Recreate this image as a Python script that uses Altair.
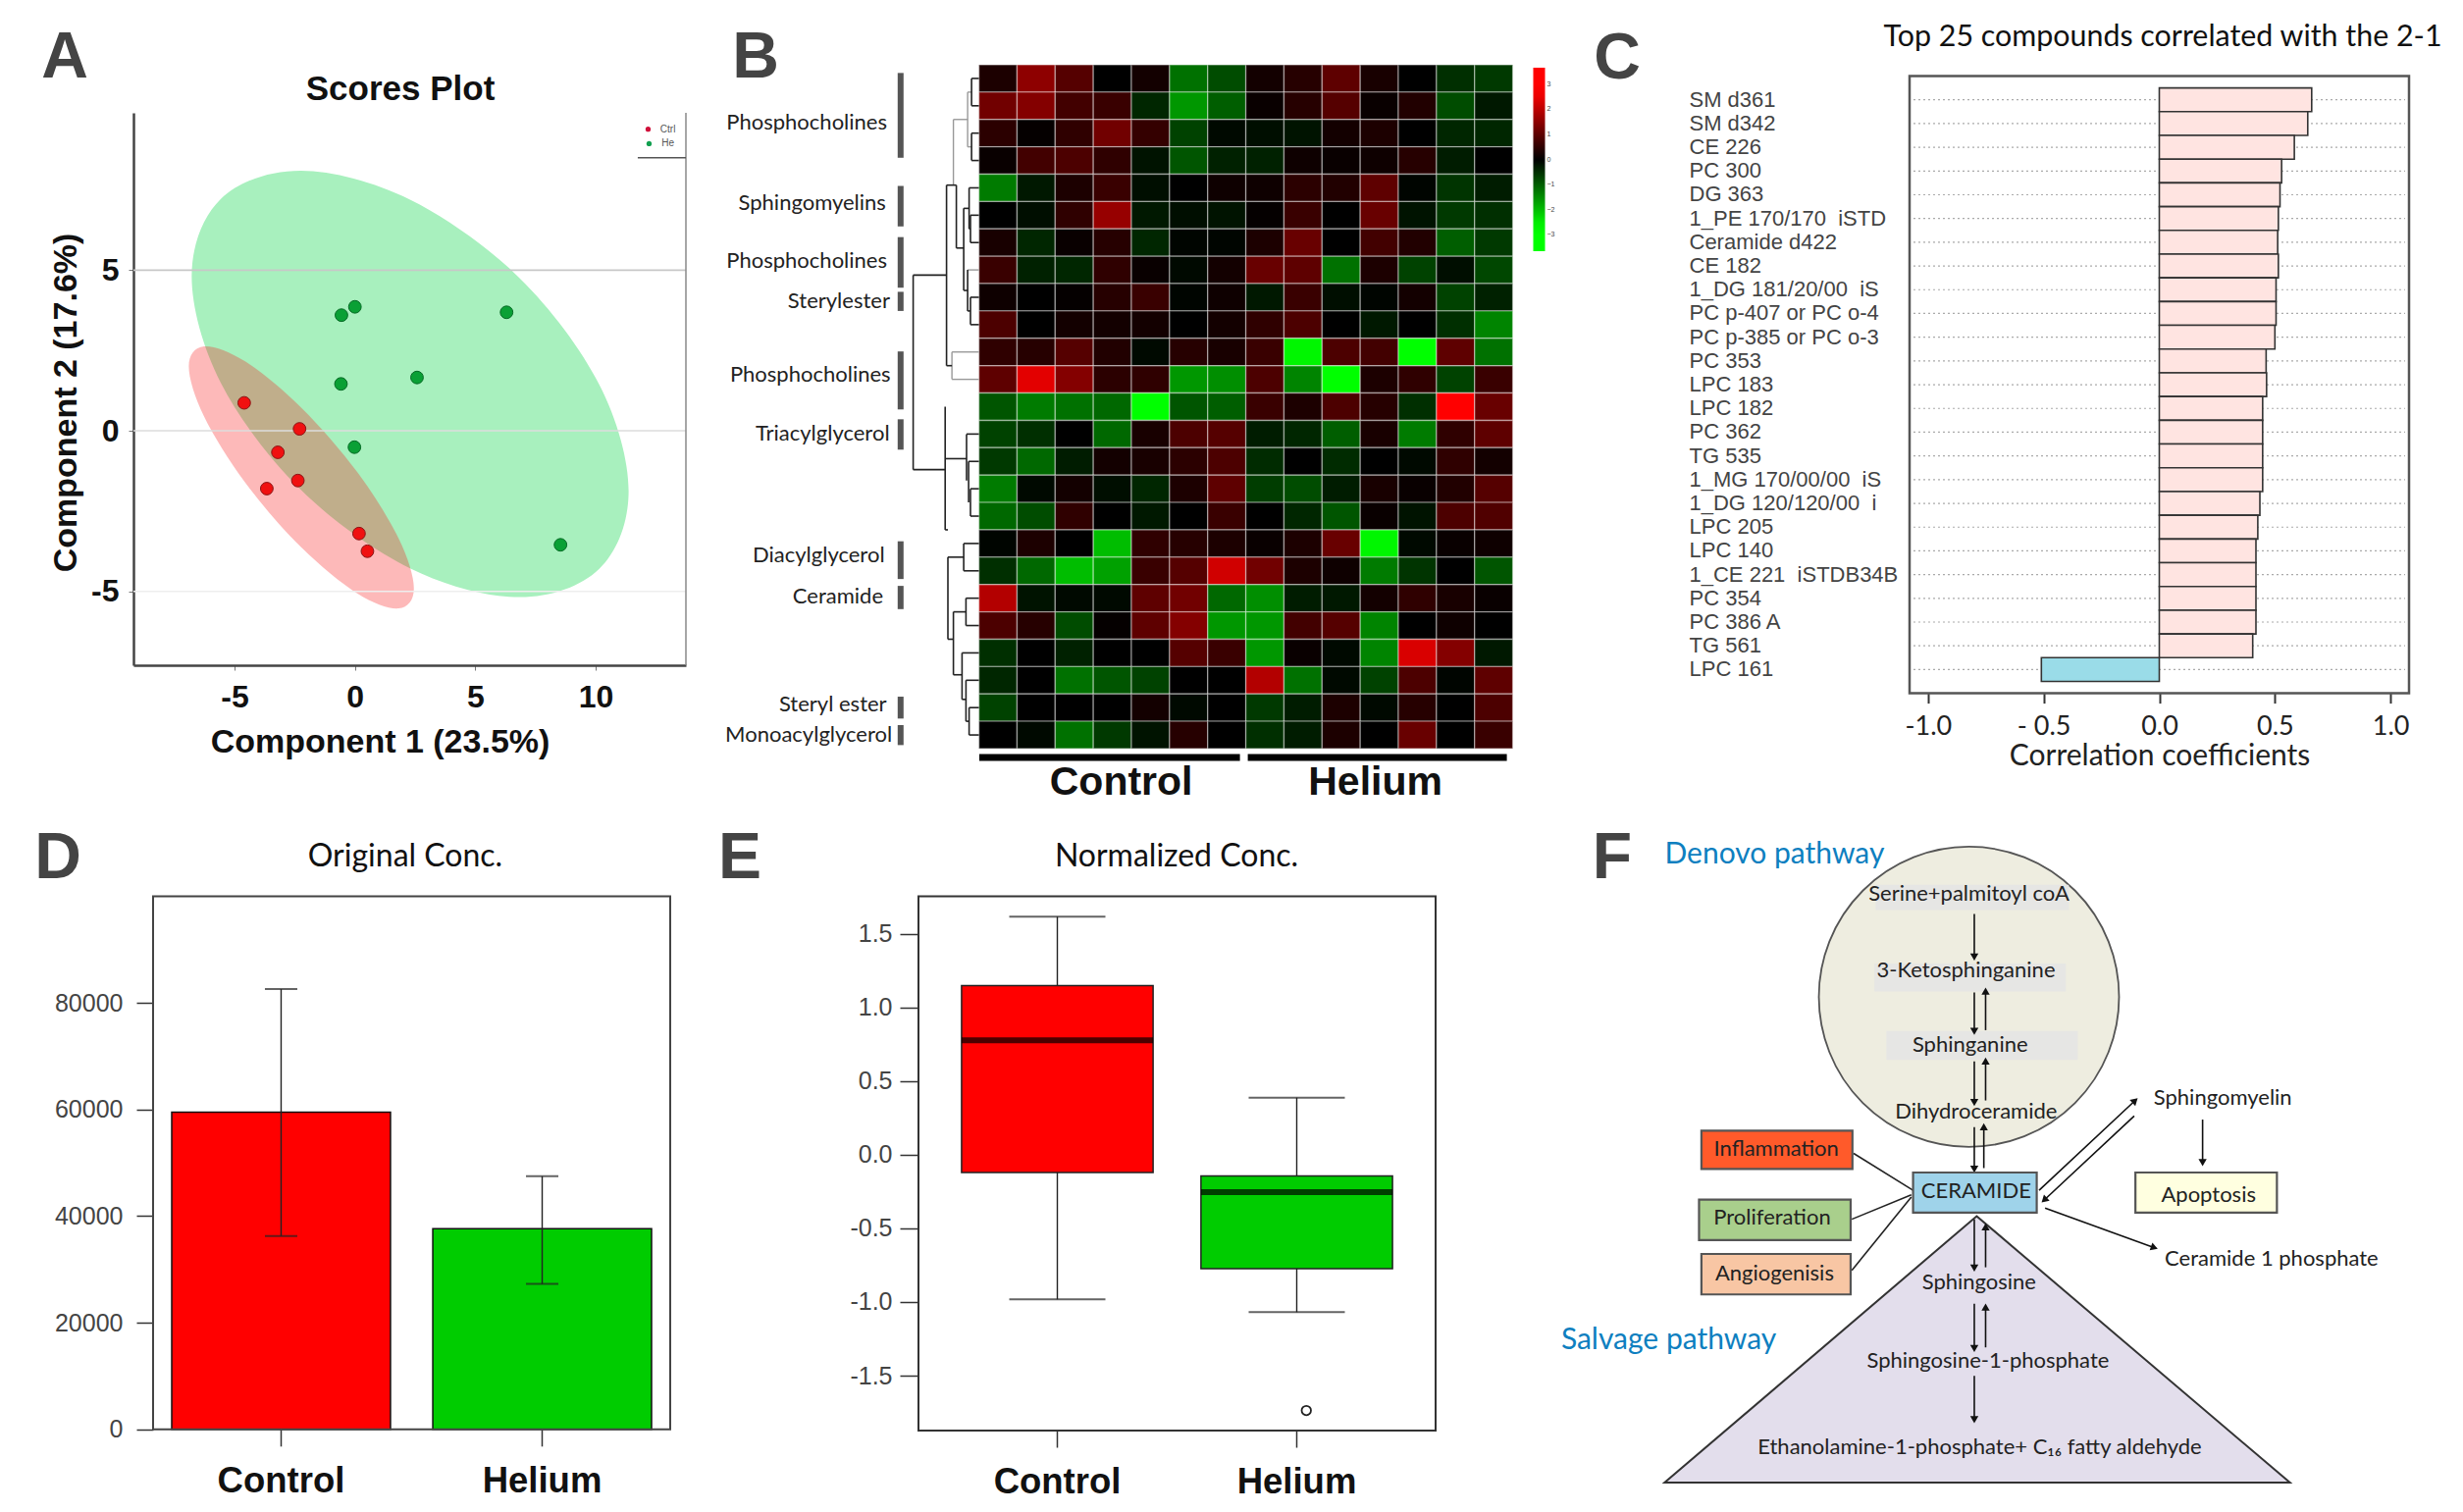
import math
import altair as alt
import pandas as pd

SANS = "Liberation Sans"
CAL = "Lato"
W, H = 2494, 1525

# ---------- A
red_x = [-4.6, -2.3, -3.2, -2.37, -3.66, 0.17, 0.52]
red_y = [0.87, 0.06, -0.67, -1.55, -1.8, -3.2, -3.75]
green_x = [0.0, -0.56, 6.3, 2.58, -0.58, -0.02, 8.54]
green_y = [3.86, 3.6, 3.69, 1.66, 1.46, -0.51, -3.55]
green_ell_x = [11.37, 10.15, 6.83, 2.29, -2.24, -5.57, -6.78, -5.57, -2.24, 2.29, 6.83, 10.15]
green_ell_y = [-1.88, -4.30, -5.18, -4.28, -1.84, 1.49, 4.81, 7.22, 8.10, 7.20, 4.76, 1.44]
red_ell_x = [2.45, 1.82, 0.11, -2.23, -4.56, -6.27, -6.90, -6.27, -4.56, -2.23, 0.11, 1.82]
red_ell_y = [-4.91, -5.53, -5.07, -3.63, -1.61, 0.45, 2.00, 2.63, 2.16, 0.72, -1.30, -3.36]
a_grid = [5, 0, -5]

# ---------- B
heat = [
 [.3,1.5,.9,0,.2,-1.2,-.8,.2,.4,1.0,.25,0,-.5,-.6],
 [1.2,1.4,.7,.6,-.4,-1.6,-1.0,.1,.4,.9,.1,.35,-.8,-.25],
 [.45,.05,.5,1.2,.55,-.7,-.1,-.15,-.2,.2,.3,0,-.4,-.4],
 [.1,.7,.8,.5,-.2,-.9,-.35,-.35,.15,.1,.15,.4,-.3,0],
 [-1.3,-.25,.3,.6,-.15,0,.15,.15,.45,.35,1.0,-.05,-.55,-.3],
 [0,-.15,.5,1.6,-.25,-.15,-.2,.05,.6,0,1.1,-.2,-.6,-.5],
 [.25,-.4,.1,.4,-.4,-.05,-.05,.3,1.1,0,.7,.35,-1.0,-.6],
 [.6,-.35,-.4,.5,.1,-.1,.2,1.1,1.0,-1.2,.3,-.7,-.15,-.75],
 [.15,0,.05,.4,.6,-.05,.15,-.25,.6,-.15,-.05,.2,-.7,-.35],
 [.8,0,.2,.2,.2,0,.2,.5,.8,0,-.25,0,-.5,-1.4],
 [.5,.4,.9,.35,-.1,.4,.25,.6,-2.6,.8,.7,-2.8,1.0,-1.2],
 [1.0,2.4,1.4,.45,.5,-1.6,-1.5,.8,-1.4,-2.7,.3,.5,-.7,.6],
 [-.9,-1.3,-1.2,-1.1,-3.0,-.9,-1.0,.6,.3,.8,.4,-.5,3.0,1.1],
 [-.7,-.5,0,-1.1,.25,.8,.9,-.3,-.4,-1.0,.25,-1.3,.5,1.0],
 [-.6,-1.1,-.3,.2,.25,.45,.8,-.45,0,-.45,0,-.1,.5,.2],
 [-1.3,-.1,.2,-.15,-.4,.3,1.0,-.65,-.8,-.3,.25,.1,.35,.9],
 [-1.1,-.8,.5,0,-.25,0,.6,0,-.4,-.9,.1,-.2,.8,.85],
 [-.05,.3,0,-2.0,.5,.4,.3,.1,.3,1.1,-2.6,-.1,.1,.15],
 [-.5,-1.1,-2.0,-1.7,.6,.9,2.2,1.2,.3,.15,-1.3,-.55,0,-.9],
 [1.9,-.2,-.1,-.1,1.0,1.2,-1.1,-1.5,-.3,-.25,.2,.5,.25,.1],
 [.8,.4,-.8,.05,1.0,1.4,-1.6,-1.6,.7,.9,-1.4,0,.15,0],
 [-.5,0,-.35,0,0,.9,.6,-1.6,.1,-.1,-1.4,2.3,1.4,-.25],
 [-.4,0,-1.2,-.9,-.7,0,0,1.9,-1.2,-.1,-.7,.8,-.05,1.0],
 [-.7,0,0,0,.2,-.1,0,-.6,-.3,.3,-.1,.4,0,.8],
 [0,-.1,-1.2,-.6,-.2,.4,0,-.5,-.3,.3,0,1.1,0,.6],
]
dendro_dark = [
 (7.5,7.5,.5,1.5),(0,7.5,.5,.5),(0,7.5,1.5,1.5),
 (7.5,7.5,2.5,3.5),(0,7.5,2.5,2.5),(0,7.5,3.5,3.5),
 (10,10,4.5,6.0),(0,10,4.5,4.5),(8.6,8.6,5.5,6.5),(0,8.6,5.5,5.5),(0,8.6,6.5,6.5),(8.6,10,6,6),
 (8.6,8.6,8.5,9.5),(0,8.6,8.5,8.5),(0,8.6,9.5,9.5),(11.5,11.5,7.5,9),(8.6,11.5,9,9),
 (15.5,15.5,5.25,8.25),(10,15.5,5.25,5.25),(11.5,15.5,8.25,8.25),
 (23,23,4.4,6.7),(15.5,23,6.7,6.7),(23,33,4.4,4.4),
 (33,33,4.4,11),(27.5,33,11,11),
 (67,67,7.69,14.8),(33,67,7.69,7.69),(34.4,67,14.8,14.8),
 (34.4,34.4,12.5,17),(8.6,8.6,15.5,16.5),(0,8.6,15.5,15.5),(0,8.6,16.5,16.5),
 (10.5,10.5,14.5,16),(0,10.5,14.5,14.5),(12.6,12.6,13.5,15.2),(0,12.6,13.5,13.5),(12.6,34.4,14.4,14.4),
 (15.5,15.5,17.5,18.5),(0,15.5,17.5,17.5),(0,15.5,18.5,18.5),(15.5,31.6,18,18),
 (13.2,13.2,19.5,20.5),(0,13.2,19.5,19.5),(0,13.2,20.5,20.5),
 (10,10,23.5,24.5),(0,10,23.5,23.5),(0,10,24.5,24.5),
 (13.2,13.2,22.5,24),(0,13.2,22.5,22.5),(10,13.2,24,24),
 (17.2,17.2,21.5,23.2),(0,17.2,21.5,21.5),(13.2,17.2,23.2,23.2),
 (26,26,20,22.3),(13.2,26,20,20),(17.2,26,22.3,22.3),
 (31.6,31.6,18,21),(26,31.6,21,21),(31.6,34.4,17,17),
]
dendro_gray = [
 (11.5,11.5,1,3),(7.5,11.5,1,1),(7.5,11.5,3,3),(26,26,2,4.4),(11.5,26,2,2),
 (0,11.5,7.5,7.5),(27.5,27.5,10.5,11.5),(0,27.5,10.5,10.5),(0,27.5,11.5,11.5),
]
group_names = ["Phosphocholines","Sphingomyelins","Phosphocholines","Sterylester","Phosphocholines","Triacylglycerol","Diacylglycerol","Ceramide","Steryl ester","Monoacylglycerol"]
group_row = [2.1,5.05,7.19,8.64,11.34,13.5,17.94,19.44,23.4,24.5]
group_end = [93.6,94.7,93.6,90.7,90,91,96,97.6,94,88.4]
bar_top = [.3,4.43,6.3,8.3,10.48,12.96,17.42,19.05,23.1,24.14]
bar_bot = [3.4,5.91,8.15,9.0,12.6,14.07,18.8,19.9,23.9,24.87]
cond_names = ["Control","Helium"]
cond_x1 = [-0.4,-274]
cond_x2 = [-266,-538]
cond_center = [-145,-404]

# ---------- C
comp_names = ["SM d361","SM d342","CE 226","PC 300","DG 363","1_PE 170/170\u00a0\u00a0iSTD","Ceramide d422","CE 182","1_DG 181/20/00\u00a0\u00a0iS","PC p-407 or PC o-4","PC p-385 or PC o-3","PC 353","LPC 183","LPC 182","PC 362","TG 535","1_MG 170/00/00\u00a0\u00a0iS","1_DG 120/120/00\u00a0\u00a0i","LPC 205","LPC 140","1_CE 221\u00a0\u00a0iSTDB34B","PC 354","PC 386 A","TG 561","LPC 161"]
comp_vals = [.659,.642,.584,.529,.522,.515,.512,.515,.505,.505,.50,.462,.464,.447,.447,.447,.447,.435,.426,.418,.418,.418,.418,.404,-.51]

# ---------- D
d_groups = ["Control","Helium"]
d_means = [59480,37620]
d_low = [36280,27280]
d_high = [82580,47470]

# ---------- E
e_q1 = [-.121,-.773]
e_q3 = [1.148,-.145]
e_med = [.776,-.254]
e_lo = [-.982,-1.069]
e_hi = [1.616,.387]
e_out = [-1.737]

# ---------- F (diagram units)
tri_x = [750,1277,225]
tri_y = [903,1502,1502]
shade_x1 = [580,578,598]
shade_x2 = [905,900,920]
shade_y1 = [158,335,487]
shade_y2 = [215,398,552]
box_names = ["Inflammation","Proliferation","Angiogenisis","CERAMIDE","Apoptosis"]
box_x1 = [287,283,287,643,1017]
box_x2 = [541,538,538,851,1255]
box_y1 = [711,866,988,805,805]
box_y2 = [797,957,1079,895,895]
box_fill = ["#FF5A2A","#A9CF8C","#F8C6A4","#9FD3EA","#FFFFE0"]
box_tx = [413,406,410,749,1140]
box_ty = [751,906,1031,846,855]
label_names = ["Sphingomyelin","Ceramide 1 phosphate","Serine+palmitoyl coA","3-Ketosphinganine","Sphinganine","Dihydroceramide","Sphingosine","Sphingosine-1-phosphate","Ethanolamine-1-phosphate+ C\u2081\u2086 fatty aldehyde"]
label_x = [1164,1246,737,732,739,749,754,769,755]
label_y = [638,1000,178,350,518,668,1051,1229,1423]
arrows = [(746,224,746,318),(746,400,746,485),(765,485,765,400),(746,555,746,645),(765,643,765,557),
          (746,703,746,795),(762,795,762,705),(746,910,746,1017),(765,1018,765,930),(746,1100,746,1198),
          (765,1198,765,1110),(746,1262,746,1358),(1130,686,1130,780),(855,845,1015,645),(1015,678,865,865),(865,885,1047,973)]
plain_lines = [(543,762,643,845),(540,910,640,855),(540,1025,640,860)]
path_names = ["Denovo pathway","Salvage pathway"]
path_x = [410,232]
path_y = [90,1183]

ONE = pd.DataFrame({"a": [0]})
MINUS = "replace(format(datum.value, '{}'), '\u2212', '-')"


def text_at(s, x, y, **kw):
    return alt.Chart(pd.DataFrame({"t": [s]})).mark_text(baseline="middle", align="center", **kw).encode(
        x=alt.value(x), y=alt.value(y), text="t:N")


def letter(s, x, y):
    return text_at(s, x, y, font=SANS, fontWeight="bold", fontSize=66, color="#444444")


def frame(x0, y0, x1, y1, color, w):
    return alt.Chart(ONE).mark_rect(fillOpacity=0, stroke=color, strokeWidth=w).encode(
        x=alt.value(x0), x2=alt.value(x1), y=alt.value(y0), y2=alt.value(y1))


# ===== Panel A (x 128-691, y 107-670)
sx_a = alt.Scale(domain=[-9.2, 13.75], range=[128, 691], nice=False, zero=False)
sy_a = alt.Scale(domain=[-7.3, 9.9], range=[670, 107], nice=False, zero=False)
X_A = alt.X("x:Q", scale=sx_a, axis=None)
Y_A = alt.Y("y:Q", scale=sy_a, axis=None)
X_A_ax = alt.X("x:Q", scale=sx_a, axis=alt.Axis(
    orient="bottom", offset=670 - H, values=[-5, 0, 5, 10], labelExpr=MINUS.format("d"), grid=False, title="Component 1 (23.5%)", titleFont=SANS,
    titleFontSize=34, titleFontWeight="bold", titleColor="#111", titleX=379, titlePadding=13, labelFont=SANS, labelFontSize=32, labelFontWeight="bold",
    labelColor="#111", labelPadding=12, tickSize=5, tickColor="#777", domainColor="#444", domainWidth=2.5))
Y_A_ax = alt.Y("y:Q", scale=sy_a, axis=alt.Axis(
    orient="left", offset=-128, values=[-5, 0, 5], labelExpr=MINUS.format("d"), grid=False, title="Component 2 (17.6%)", titleFont=SANS,
    titleFontSize=34, titleFontWeight="bold", titleColor="#111", titleY=402, titlePadding=8, labelFont=SANS, labelFontSize=32,
    labelFontWeight="bold", labelColor="#111", labelPadding=10, tickSize=5, tickColor="#777", domainColor="#444", domainWidth=2.5))
df_ge = pd.DataFrame({"x": green_ell_x, "y": green_ell_y, "i": range(len(green_ell_x))})
df_re = pd.DataFrame({"x": red_ell_x, "y": red_ell_y, "i": range(len(red_ell_x))})
a_layers = [
    alt.Chart(df_ge).mark_line(interpolate="cardinal-closed", fill="#A8F0BE", strokeWidth=0).encode(x=X_A_ax, y=Y_A_ax, order="i:Q"),
    alt.Chart(df_re).mark_line(interpolate="cardinal-closed", fill="#F81616", fillOpacity=0.3, strokeWidth=0).encode(x=X_A, y=Y_A, order="i:Q"),
    alt.Chart(pd.DataFrame({"y": a_grid, "c": ["#C8C8C8", "#DDDDDD", "#EEEEEE"]})).mark_rule(strokeWidth=1.6).encode(
        x=alt.value(128), x2=alt.value(691), y=Y_A, color=alt.Color("c:N", scale=None)),
    alt.Chart(ONE).mark_rule(color="#888888", strokeWidth=1.5).encode(x=alt.value(691), y=alt.value(107), y2=alt.value(670)),
    alt.Chart(pd.DataFrame({"x": red_x, "y": red_y})).mark_point(filled=True, size=165, color="#F01010", stroke="#8a1515", strokeWidth=1, opacity=1).encode(x=X_A, y=Y_A),
    alt.Chart(pd.DataFrame({"x": green_x, "y": green_y})).mark_point(filled=True, size=165, color="#0AA035", stroke="#066a25", strokeWidth=1, opacity=1).encode(x=X_A, y=Y_A),
    alt.Chart(pd.DataFrame({"x": [12.18, 12.22], "y": [9.39, 8.94], "c": ["#D0103A", "#12A050"]})).mark_point(filled=True, size=28, opacity=1).encode(x=X_A, y=Y_A, color=alt.Color("c:N", scale=None)),
    alt.Chart(pd.DataFrame({"x": [13.0, 13.0], "y": [9.39, 8.94], "t": ["Ctrl", "He"]})).mark_text(font=SANS, fontSize=10, color="#555555", baseline="middle").encode(x=X_A, y=Y_A, text="t:N"),
    alt.Chart(pd.DataFrame({"x": [11.75], "x2": [13.75], "y": [8.5]})).mark_rule(color="#555555", strokeWidth=1.5).encode(x=X_A, x2="x2:Q", y=Y_A),
    letter("A", 58, 51),
    text_at("Scores Plot", 400, 83, font=SANS, fontSize=35, fontWeight="bold", color="#111"),
]

# ===== Panel B (x 989.6-1533.6, y 58-755)
hm_rows = [{"r": i, "c": j, "v": v} for i, row in enumerate(heat) for j, v in enumerate(row)]
dx = alt.Scale(domain=[0, 100], range=[989.6, 889.6], nice=False, zero=False)
dy = alt.Scale(domain=[0, 25], range=[58, 755], nice=False, zero=False)


def seg_layer(segs, color, w):
    return alt.Chart(pd.DataFrame(segs, columns=["d1", "d2", "r1", "r2"])).mark_rule(color=color, strokeWidth=w).encode(
        x=alt.X("d1:Q", scale=dx, axis=None), x2="d2:Q",
        y=alt.Y("r1:Q", scale=dy, axis=None), y2="r2:Q")


b_layers = [
    alt.Chart(pd.DataFrame(hm_rows)).mark_rect(stroke="#FFFFFF", strokeWidth=1.4, strokeOpacity=0.4).encode(
        x=alt.X("c:O", axis=None, scale=alt.Scale(range=[989.6, 1533.6], paddingInner=0, paddingOuter=0)),
        y=alt.Y("r:O", axis=None, scale=alt.Scale(range=[58, 755], paddingInner=0, paddingOuter=0)),
        color=alt.Color("v:Q", scale=alt.Scale(domain=[-3.65, -2.7, 0, 2.7, 3.65], range=["#00FF00", "#00FF00", "#000000", "#FF0000", "#FF0000"], interpolate="rgb"),
                        legend=alt.Legend(orient="none", legendX=1554.5, legendY=61, title=None, gradientLength=187, gradientThickness=12,
                                          values=[-3, -2, -1, 0, 1, 2, 3], labelFontSize=7, labelColor="#444", labelFont=SANS, gradientStrokeWidth=0))),
    seg_layer(dendro_gray, "#999999", 1.4),
    seg_layer(dendro_dark, "#222222", 1.6),
    alt.Chart(pd.DataFrame({"t": group_names, "r": group_row, "d": group_end})).mark_text(
        font=CAL, fontSize=22, color="#222", align="right", baseline="middle").encode(
        x=alt.X("d:Q", scale=dx, axis=None), y=alt.Y("r:Q", scale=dy, axis=None), text="t:N"),
    alt.Chart(pd.DataFrame({"d": [79.8] * len(bar_top), "r1": bar_top, "r2": bar_bot})).mark_rule(color="#555555", strokeWidth=6).encode(
        x=alt.X("d:Q", scale=dx, axis=None), y=alt.Y("r1:Q", scale=dy, axis=None), y2="r2:Q"),
    alt.Chart(pd.DataFrame({"a": cond_x1, "b": cond_x2, "r": [25.32, 25.32]})).mark_rule(color="#000000", strokeWidth=7).encode(
        x=alt.X("a:Q", scale=dx, axis=None), x2="b:Q", y=alt.Y("r:Q", scale=dy, axis=None)),
    alt.Chart(pd.DataFrame({"t": cond_names, "d": cond_center, "r": [26.24, 26.24]})).mark_text(
        font=SANS, fontWeight="bold", fontSize=41, color="#111", baseline="middle").encode(
        x=alt.X("d:Q", scale=dx, axis=None), y=alt.Y("r:Q", scale=dy, axis=None), text="t:N"),
    letter("B", 762, 51),
]

# ===== Panel C (x 1938-2447, y 69.5-698.6)
df_c = pd.DataFrame({"n": comp_names, "v": comp_vals, "p": ["pos" if v > 0 else "neg" for v in comp_vals]})
sy_c = alt.Scale(domain=comp_names, range=[69.5, 698.6], paddingInner=0, paddingOuter=0.5)
c_layers = [
    alt.Chart(df_c).mark_rule(color="#AAAAAA", strokeWidth=1.2, strokeDash=[2, 3]).encode(
        x=alt.value(1942), x2=alt.value(2443), y=alt.Y("n:N", sort=comp_names, scale=sy_c, axis=None)),
    alt.Chart(df_c).mark_bar(stroke="#333333", strokeWidth=1.6).encode(
        x=alt.X("v:Q", stack=None, scale=alt.Scale(domain=[-1.08, 1.08], range=[1938, 2447], nice=False, zero=False), axis=alt.Axis(
            orient="bottom", offset=698.6 - H, values=[-1, -.5, 0, .5, 1], grid=False, title="Correlation coefficients", titleFont=CAL, titleFontSize=30, titleFontWeight="normal",
            titleColor="#222", titlePadding=2, labelFont=CAL, labelFontSize=27, labelColor="#222", labelPadding=11, tickSize=10, tickColor="#333", tickWidth=2, domain=False,
            labelExpr="datum.value == -0.5 ? '- 0.5' : " + MINUS.format(".1f"))),
        y=alt.Y("n:N", sort=comp_names, title=None, scale=sy_c, axis=alt.Axis(
            orient="left", offset=-1938, grid=False, tickSize=0, domain=False, labelAlign="left", labelPadding=225,
            labelFont=SANS, labelFontSize=22, labelColor="#444", labelLimit=260)),
        color=alt.Color("p:N", legend=None, scale=alt.Scale(domain=["pos", "neg"], range=["#FFE4E1", "#9ADCE8"]))),
    frame(1938, 69.5, 2447, 698.6, "#555555", 2.5),
    letter("C", 1640, 52),
    text_at("Top 25 compounds correlated with the 2-1", 2196, 30, font=CAL, fontSize=30.4, color="#111"),
]

# ===== Panel D (x 148-675, y 905.4-1448.8)
sx_d = alt.Scale(domain=d_groups, range=[148, 675], paddingInner=0.162, paddingOuter=0.0714)
sy_d = alt.Scale(domain=[0, 100000], range=[1448.8, 905.4], nice=False)
X_D = alt.X("g:N", sort=d_groups, title=None, scale=sx_d, axis=None)
df_d = pd.DataFrame({"g": d_groups, "m": d_means, "lo": d_low, "hi": d_high})
d_layers = [
    alt.Chart(df_d).mark_bar(stroke="#111111", strokeWidth=1.5).encode(
        x=alt.X("g:N", sort=d_groups, title=None, scale=sx_d, axis=alt.Axis(
            orient="bottom", offset=1448.8 - H, labelAngle=0, labelFont=SANS, labelFontSize=36.5, labelFontWeight="bold", labelColor="#111", tickSize=17, tickColor="#333", tickWidth=1.5, labelPadding=18, domain=False)),
        y=alt.Y("m:Q", stack=None, title=None, scale=sy_d, axis=alt.Axis(
            orient="left", offset=-148, values=[0, 20000, 40000, 60000, 80000], format="d", grid=False, domain=False, tickSize=17, tickColor="#333", tickWidth=1.5,
            labelFont=SANS, labelFontSize=25, labelColor="#444", labelPadding=14)),
        color=alt.Color("g:N", legend=None, sort=d_groups, scale=alt.Scale(domain=d_groups, range=["#FF0000", "#00CC00"]))),
    alt.Chart(df_d).mark_rule(color="#222222", strokeWidth=1.4).encode(x=X_D, y=alt.Y("lo:Q", scale=sy_d, axis=None), y2="hi:Q"),
    alt.Chart(df_d).mark_tick(color="#222222", size=33, thickness=2).encode(x=X_D, y=alt.Y("lo:Q", scale=sy_d, axis=None)),
    alt.Chart(df_d).mark_tick(color="#222222", size=33, thickness=2).encode(x=X_D, y=alt.Y("hi:Q", scale=sy_d, axis=None)),
    frame(148, 905.4, 675, 1448.8, "#444444", 2),
    letter("D", 51, 867),
    text_at("Original Conc.", 405, 865, font=CAL, fontSize=32, color="#111"),
]

# ===== Panel E (x 928-1455, y 905.4-1450)
sx_e = alt.Scale(domain=d_groups, range=[928, 1455], paddingInner=0.2, paddingOuter=0.18)
sy_e = alt.Scale(domain=[-1.873, 1.755], range=[1450, 905.4], nice=False, zero=False)
X_E = alt.X("g:N", sort=d_groups, title=None, scale=sx_e, axis=None)
df_e = pd.DataFrame({"g": d_groups, "q1": e_q1, "q3": e_q3, "med": e_med, "lo": e_lo, "hi": e_hi})
e_layers = [
    alt.Chart(df_e).mark_rule(color="#222222", strokeWidth=1.4).encode(
        x=alt.X("g:N", sort=d_groups, title=None, scale=sx_e, axis=alt.Axis(
            orient="bottom", offset=1450 - H, labelAngle=0, labelFont=SANS, labelFontSize=36.5, labelFontWeight="bold", labelColor="#111", tickSize=17, tickColor="#333", tickWidth=1.5, labelPadding=17, domain=False)),
        y=alt.Y("lo:Q", title=None, scale=sy_e, axis=alt.Axis(
            orient="left", offset=-928, values=[-1.5, -1, -.5, 0, .5, 1, 1.5], labelExpr=MINUS.format(".1f"), grid=False, domain=False, tickSize=19, tickColor="#333", tickWidth=1.5,
            labelFont=SANS, labelFontSize=25, labelColor="#444", labelPadding=8)), y2="hi:Q"),
    alt.Chart(df_e).mark_tick(color="#222222", size=98, thickness=2).encode(x=X_E, y=alt.Y("lo:Q", scale=sy_e, axis=None)),
    alt.Chart(df_e).mark_tick(color="#222222", size=98, thickness=2).encode(x=X_E, y=alt.Y("hi:Q", scale=sy_e, axis=None)),
    alt.Chart(df_e).mark_bar(stroke="#222222", strokeWidth=1.5).encode(
        x=X_E, y=alt.Y("q1:Q", scale=sy_e, axis=None), y2="q3:Q",
        color=alt.Color("g:N", legend=None, sort=d_groups, scale=alt.Scale(domain=d_groups, range=["#FF0000", "#00CC00"]))),
    alt.Chart(df_e).mark_tick(color="#000000", size=195, thickness=6).encode(x=X_E, y=alt.Y("med:Q", scale=sy_e, axis=None)),
    alt.Chart(pd.DataFrame({"g": ["Helium"], "o": e_out})).mark_point(color="#222222", size=90, strokeWidth=1.8, opacity=1).encode(x=X_E, y=alt.Y("o:Q", scale=sy_e, axis=None)),
    frame(928, 905.4, 1455, 1450, "#333333", 2),
    letter("E", 746, 867),
    text_at("Normalized Conc.", 1191, 865, font=CAL, fontSize=32, color="#111"),
]

# ===== Panel F (origin 1552, 822)
fx = alt.Scale(domain=[0, 1568], range=[1552, 2502], nice=False, zero=False)
fy = alt.Scale(domain=[0, 1568], range=[822, 1533], nice=False, zero=False)
FX = lambda f: alt.X(f, scale=fx, axis=None)
FY = lambda f: alt.Y(f, scale=fy, axis=None)
df_box = pd.DataFrame({"a": box_x1, "b": box_x2, "c": box_y1, "d": box_y2, "f": box_fill, "t": box_names, "tx": box_tx, "ty": box_ty})
df_arrow = pd.DataFrame(arrows, columns=["x1", "y1", "x2", "y2"])
df_arrow["ang"] = [math.degrees(math.atan2((c - a) / 1.65, -(d - b) / 2.205)) for a, b, c, d in arrows]
f_layers = [
    alt.Chart(pd.DataFrame({"x": tri_x, "y": tri_y, "i": [0, 1, 2]})).mark_line(interpolate="linear-closed", fill="#E3DEEC", stroke="#333333", strokeWidth=2).encode(x=FX("x:Q"), y=FY("y:Q"), order="i:Q"),
    alt.Chart(pd.DataFrame({"x": [737], "y": [410]})).mark_point(shape="circle", filled=True, size=93600, color="#EEEDE0", stroke="#555555", strokeWidth=1.8, opacity=1).encode(x=FX("x:Q"), y=FY("y:Q")),
    alt.Chart(pd.DataFrame({"a": shade_x1, "b": shade_x2, "c": shade_y1, "d": shade_y2})).mark_rect(color="#E6E6E4").encode(x=FX("a:Q"), x2="b:Q", y=FY("c:Q"), y2="d:Q"),
    alt.Chart(pd.DataFrame(plain_lines, columns=["x1", "y1", "x2", "y2"])).mark_rule(color="#222222", strokeWidth=1.6).encode(x=FX("x1:Q"), x2="x2:Q", y=FY("y1:Q"), y2="y2:Q"),
    alt.Chart(df_arrow).mark_rule(color="#111111", strokeWidth=1.6).encode(x=FX("x1:Q"), x2="x2:Q", y=FY("y1:Q"), y2="y2:Q"),
    alt.Chart(df_arrow).mark_point(shape="triangle", filled=True, size=70, color="#111111", opacity=1).encode(x=FX("x2:Q"), y=FY("y2:Q"), angle=alt.Angle("ang:Q", scale=None)),
    alt.Chart(df_box).mark_rect(stroke="#555555", strokeWidth=2.2).encode(x=FX("a:Q"), x2="b:Q", y=FY("c:Q"), y2="d:Q", color=alt.Color("f:N", scale=None)),
    alt.Chart(df_box).mark_text(font=CAL, fontSize=22, color="#222", baseline="middle").encode(x=FX("tx:Q"), y=FY("ty:Q"), text="t:N"),
    alt.Chart(pd.DataFrame({"t": label_names, "x": label_x, "y": label_y})).mark_text(font=CAL, fontSize=22, color="#222", baseline="middle").encode(x=FX("x:Q"), y=FY("y:Q"), text="t:N"),
    alt.Chart(pd.DataFrame({"t": path_names, "x": path_x, "y": path_y})).mark_text(font=CAL, fontSize=30, color="#0E7FC0", baseline="middle").encode(x=FX("x:Q"), y=FY("y:Q"), text="t:N"),
    letter("F", 1635, 867),
]

chart = alt.layer(*(a_layers + b_layers + c_layers + d_layers + e_layers + f_layers)).resolve_scale(
    x="independent", y="independent", color="independent"
).properties(width=W, height=H, padding=0, background="white",
             autosize=alt.AutoSizeParams(type="none")).configure_view(stroke=None)
chart.save("out.html", embed_options={"renderer": "svg", "actions": False})
